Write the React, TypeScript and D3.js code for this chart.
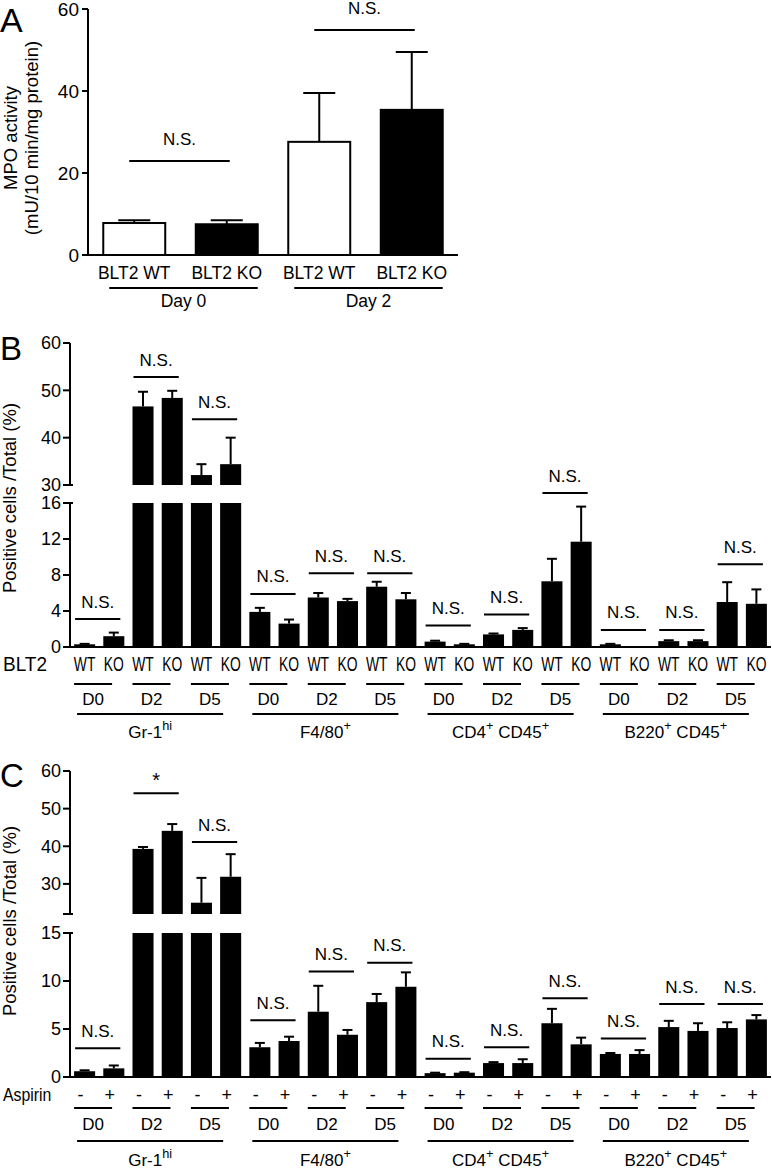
import React from "react";
import * as d3 from "d3";

// ---------- DATA ----------
// Panel A
const aCategories = ["BLT2 WT", "BLT2 KO", "BLT2 WT", "BLT2 KO"];
const aDays = ["Day 0", "Day 2"];
const aValues = [7.8, 7.5, 27.6, 35.4];
const aErrors = [0.7, 1.0, 11.9, 14.1];
const aSigLevels = [22.9, 54.9];
const aSigLabels = ["N.S.", "N.S."];
const aTicks = [0, 20, 40, 60];

// Panels B and C share the categories
const cellTypes = ["Gr-1^hi", "F4/80^+", "CD4^+ CD45^+", "B220^+ CD45^+"];
const dayLabels = ["D0", "D2", "D5"];

// Panel B (BLT2 WT / KO)
const bGenotypes = ["WT", "KO"];
const bValues = [
  0.3, 1.2, 46.6, 48.4, 32.1, 34.4,
  3.9, 2.6, 5.5, 5.1, 6.7, 5.3,
  0.6, 0.3, 1.4, 1.9, 7.3, 11.7,
  0.3, 0.0, 0.65, 0.65, 5.0, 4.8,
];
const bErrors = [
  0.05, 0.4, 3.1, 1.5, 2.3, 5.6,
  0.45, 0.45, 0.5, 0.25, 0.55, 0.7,
  0.1, 0.05, 0.1, 0.2, 2.5, 3.9,
  0.05, 0.0, 0.1, 0.1, 2.2, 1.6,
];
const bSigLevels = [3.1, 52.8, 43.9, 5.9, 8.2, 8.2, 2.4, 3.6, 17.1, 1.9, 1.9, 9.2];
const bSigLabels = ["N.S.", "N.S.", "N.S.", "N.S.", "N.S.", "N.S.", "N.S.", "N.S.", "N.S.", "N.S.", "N.S.", "N.S."];
const bLowerTicks = [0, 4, 8, 12, 16];
const bUpperTicks = [30, 40, 50, 60];

// Panel C (Aspirin - / +)
const cTreatments = ["-", "+"];
const cValues = [
  0.6, 0.9, 39.3, 44.1, 25.0, 31.9,
  3.1, 3.75, 6.8, 4.4, 7.8, 9.4,
  0.4, 0.45, 1.45, 1.45, 5.6, 3.4,
  2.4, 2.4, 5.2, 4.8, 5.1, 6.0,
];
const cErrors = [
  0.1, 0.3, 0.5, 1.8, 6.6, 6.0,
  0.45, 0.45, 2.7, 0.5, 0.85, 1.5,
  0.05, 0.05, 0.1, 0.4, 1.5, 0.7,
  0.1, 0.4, 0.65, 0.8, 0.6, 0.45,
];
const cSigLevels = [3.0, 54.1, 41.1, 5.9, 11.0, 11.9, 1.9, 3.1, 8.2, 4.0, 7.6, 7.6];
const cSigLabels = ["N.S.", "*", "N.S.", "N.S.", "N.S.", "N.S.", "N.S.", "N.S.", "N.S.", "N.S.", "N.S.", "N.S."];
const cLowerTicks = [0, 5, 10, 15];
const cUpperTicks = [30, 40, 50, 60];

// ---------- LAYOUT ----------
const W = 772;
const H = 1170;
const FONT = "'Liberation Sans', Arial, Helvetica, sans-serif";
const SW = 2;

function RichLabel({ x, y, text, size }: { x: number; y: number; text: string; size: number }) {
  const parts = text.split(/(\^[^\s]+)/).filter((p) => p.length > 0);
  const nodes: React.ReactNode[] = [];
  let raised = false;
  parts.forEach((p, i) => {
    if (p.startsWith("^")) {
      nodes.push(
        <tspan key={i} fontSize={size * 0.75} dy={-size * 0.45}>
          {p.slice(1)}
        </tspan>
      );
      raised = true;
    } else {
      nodes.push(
        <tspan key={i} dy={raised ? size * 0.45 : 0}>
          {p}
        </tspan>
      );
      raised = false;
    }
  });
  return (
    <text x={x} y={y} fontSize={size} textAnchor="middle" fontFamily={FONT}>
      {nodes}
    </text>
  );
}

function CText({ x, y, sx, size, children, anchor = "middle" }: any) {
  return (
    <text
      transform={`translate(${x},${y}) scale(${sx},1)`}
      fontSize={size}
      textAnchor={anchor}
      fontFamily={FONT}
    >
      {children}
    </text>
  );
}

function PanelA() {
  const x = d3.scaleBand<number>().domain(d3.range(aValues.length)).range([88, 458]).paddingInner(0.33).paddingOuter(0.165);
  const y = d3.scaleLinear().domain([0, 60]).range([255, 9]);
  const bw = x.bandwidth();
  const axisX = 88;
  return (
    <g>
      <text x={0} y={32} fontSize={34} fontFamily={FONT}>A</text>
      <text transform={`translate(17,138) rotate(-90)`} fontSize={18.5} textAnchor="middle" fontFamily={FONT}>MPO activity</text>
      <text transform={`translate(38,138) rotate(-90)`} fontSize={18.5} textAnchor="middle" fontFamily={FONT}>(mU/10 min/mg protein)</text>
      {/* y axis */}
      <line x1={axisX} x2={axisX} y1={y(60)} y2={y(0)} stroke="#000" strokeWidth={SW} />
      {aTicks.map((t) => (
        <g key={t}>
          <line x1={axisX - 6} x2={axisX} y1={y(t)} y2={y(t)} stroke="#000" strokeWidth={SW} />
          <text x={axisX - 9} y={y(t)} dy="0.36em" fontSize={19} textAnchor="end" fontFamily={FONT}>{t}</text>
        </g>
      ))}
      {/* bars */}
      {aValues.map((v, i) => {
        const x0 = x(i)!;
        const cx = x0 + bw / 2;
        const isWT = aCategories[i].includes("WT");
        return (
          <g key={i}>
            <line x1={cx} x2={cx} y1={y(v)} y2={y(v + aErrors[i])} stroke="#000" strokeWidth={SW} />
            <line x1={cx - 16} x2={cx + 16} y1={y(v + aErrors[i])} y2={y(v + aErrors[i])} stroke="#000" strokeWidth={SW} />
            <rect x={x0} y={y(v)} width={bw} height={y(0) - y(v)} fill={isWT ? "#fff" : "#000"} stroke="#000" strokeWidth={SW} />
            <text x={cx} y={279} fontSize={17.5} textAnchor="middle" fontFamily={FONT}>{aCategories[i]}</text>
          </g>
        );
      })}
      <line x1={axisX} x2={458} y1={y(0)} y2={y(0)} stroke="#000" strokeWidth={SW} />
      {aDays.map((d, k) => {
        const x1 = x(2 * k)! + 6;
        const x2 = x(2 * k + 1)! + bw;
        return (
          <g key={d}>
            <line x1={x1} x2={x2} y1={288} y2={288} stroke="#000" strokeWidth={SW} />
            <text x={(x1 + x2) / 2} y={307} fontSize={17.5} textAnchor="middle" fontFamily={FONT}>{d}</text>
          </g>
        );
      })}
      {aSigLevels.map((lv, k) => {
        const x1 = x(2 * k)! + bw / 2 - 5;
        const x2 = x(2 * k + 1)! + bw / 2 + 3;
        return (
          <g key={k}>
            <line x1={x1} x2={x2} y1={y(lv)} y2={y(lv)} stroke="#000" strokeWidth={SW} />
            <text x={(x1 + x2) / 2} y={y(lv) - 16} fontSize={17} textAnchor="middle" fontFamily={FONT}>{aSigLabels[k]}</text>
          </g>
        );
      })}
    </g>
  );
}

type BrokenProps = {
  letter: string;
  letterY: number;
  values: number[];
  errors: number[];
  sigLevels: number[];
  sigLabels: string[];
  lowerDomain: [number, number];
  lowerRange: [number, number];
  upperDomain: [number, number];
  upperRange: [number, number];
  lowerTicks: number[];
  upperTicks: number[];
  rowHeader: string;
  rowHeaderSize: number;
  rowHeaderSx: number;
  rowSymbols: string[];
  rowSize: number;
  rowSx: number;
  rowY: number;
  rowOffset: number;
  labelCy: number;
  pairLineY: number;
  dayY: number;
  groupLineY: number;
  groupY: number;
};

function BrokenPanel(p: BrokenProps) {
  const n = p.values.length;
  const x = d3.scaleBand<number>().domain(d3.range(n)).range([70, 771]).paddingInner(0.28).paddingOuter(0.14);
  const bw = x.bandwidth();
  const yL = d3.scaleLinear().domain(p.lowerDomain).range(p.lowerRange);
  const yU = d3.scaleLinear().domain(p.upperDomain).range(p.upperRange);
  const lowMax = p.lowerDomain[1];
  const upMin = p.upperDomain[0];
  const axisX = 70;
  const els: React.ReactNode[] = [];

  p.values.forEach((v, i) => {
    const x0 = x(i)!;
    const cx = x0 + bw / 2;
    const e = p.errors[i];
    const broken = v > lowMax;
    const ys = broken ? yU : yL;
    if (e > 0) {
      els.push(<line key={`el${i}`} x1={cx} x2={cx} y1={ys(v)} y2={ys(v + e)} stroke="#000" strokeWidth={SW} />);
      els.push(<line key={`ec${i}`} x1={cx - 5} x2={cx + 5} y1={ys(v + e)} y2={ys(v + e)} stroke="#000" strokeWidth={SW} />);
    }
    if (broken) {
      els.push(<rect key={`bl${i}`} x={x0} y={yL(lowMax)} width={bw} height={yL(0) - yL(lowMax)} fill="#000" />);
      els.push(<rect key={`bu${i}`} x={x0} y={yU(v)} width={bw} height={yU(upMin) - yU(v)} fill="#000" />);
    } else if (v > 0) {
      els.push(<rect key={`b${i}`} x={x0} y={yL(v)} width={bw} height={yL(0) - yL(v)} fill="#000" />);
    }
    els.push(
      <CText key={`r${i}`} x={cx + p.rowOffset} y={p.rowY} sx={p.rowSx} size={p.rowSize}>
        {p.rowSymbols[i % 2]}
      </CText>
    );
  });

  p.sigLevels.forEach((lv, k) => {
    const broken = Math.max(p.values[2 * k], p.values[2 * k + 1]) > lowMax;
    const yy = broken ? yU(lv) : yL(lv);
    const x1 = x(2 * k)! + 1;
    const x2 = x(2 * k + 1)! + bw - 4;
    const isStar = p.sigLabels[k] === "*";
    els.push(<line key={`sl${k}`} x1={x1} x2={x2} y1={yy} y2={yy} stroke="#000" strokeWidth={SW} />);
    els.push(
      <text key={`st${k}`} x={(x1 + x2) / 2} y={isStar ? yy - 6 : yy - 11.5} fontSize={isStar ? 20 : 17} textAnchor="middle" fontFamily={FONT}>
        {p.sigLabels[k]}
      </text>
    );
  });

  // pair underlines and day labels
  for (let k = 0; k < n / 2; k++) {
    const x1 = x(2 * k)!;
    const x2 = x1 + 38;
    els.push(<line key={`pl${k}`} x1={x1} x2={x2} y1={p.pairLineY} y2={p.pairLineY} stroke="#000" strokeWidth={SW} />);
    els.push(
      <text key={`dl${k}`} x={(x1 + x2) / 2} y={p.dayY} fontSize={17} textAnchor="middle" fontFamily={FONT}>
        {dayLabels[k % 3]}
      </text>
    );
  }
  // group lines and labels
  cellTypes.forEach((c, g) => {
    const x1 = x(6 * g)! + 3;
    const x2 = x(6 * g + 5)! + bw - 18;
    els.push(<line key={`gl${g}`} x1={x1} x2={x2} y1={p.groupLineY} y2={p.groupLineY} stroke="#000" strokeWidth={SW} />);
    els.push(<RichLabel key={`gt${g}`} x={(x1 + x2) / 2} y={p.groupY} text={c} size={17} />);
  });

  const [l0, l1] = p.lowerRange;
  const [u0, u1] = p.upperRange;
  return (
    <g>
      <text x={0} y={p.letterY} fontSize={33} fontFamily={FONT}>{p.letter}</text>
      <text transform={`translate(16,${p.labelCy}) rotate(-90)`} fontSize={18.5} textAnchor="middle" fontFamily={FONT}>
        Positive cells /Total (%)
      </text>
      {/* broken y axis */}
      <line x1={axisX} x2={axisX} y1={l0} y2={l1} stroke="#000" strokeWidth={SW} />
      <line x1={axisX} x2={axisX} y1={u0} y2={u1} stroke="#000" strokeWidth={SW} />
      <line x1={axisX - 7} x2={axisX + 3} y1={l1} y2={l1} stroke="#000" strokeWidth={SW} />
      <line x1={axisX - 7} x2={axisX + 3} y1={u0} y2={u0} stroke="#000" strokeWidth={SW} />
      {p.lowerTicks.map((t) => (
        <g key={`lt${t}`}>
          <line x1={axisX - 7} x2={axisX} y1={yL(t)} y2={yL(t)} stroke="#000" strokeWidth={SW} />
          <text x={axisX - 9} y={yL(t)} dy="0.36em" fontSize={18} textAnchor="end" fontFamily={FONT}>{t}</text>
        </g>
      ))}
      {p.upperTicks.map((t) => (
        <g key={`ut${t}`}>
          <line x1={axisX - 7} x2={axisX} y1={yU(t)} y2={yU(t)} stroke="#000" strokeWidth={SW} />
          <text x={axisX - 9} y={yU(t)} dy="0.36em" fontSize={18} textAnchor="end" fontFamily={FONT}>{t}</text>
        </g>
      ))}
      {els}
      <line x1={axisX} x2={771} y1={l0} y2={l0} stroke="#000" strokeWidth={SW} />
      <CText x={3} y={p.rowY} sx={p.rowHeaderSx} size={p.rowHeaderSize} anchor="start">{p.rowHeader}</CText>
    </g>
  );
}

export default function App() {
  return (
    <svg
      width={W}
      height={H}
      viewBox={`0 0 ${W} ${H}`}
      style={{ position: "absolute", left: 0, top: 0, background: "#fff" }}
    >
      <rect x={0} y={0} width={W} height={H} fill="#fff" />
      <PanelA />
      <BrokenPanel
        letter="B"
        letterY={360}
        values={bValues}
        errors={bErrors}
        sigLevels={bSigLevels}
        sigLabels={bSigLabels}
        lowerDomain={[0, 16]}
        lowerRange={[647, 503]}
        upperDomain={[30, 60]}
        upperRange={[485, 343]}
        lowerTicks={bLowerTicks}
        upperTicks={bUpperTicks}
        rowHeader="BLT2"
        rowHeaderSize={20}
        rowHeaderSx={0.95}
        rowSymbols={bGenotypes}
        rowSize={21}
        rowSx={0.66}
        rowY={671}
        rowOffset={0}
        labelCy={498}
        pairLineY={684}
        dayY={705}
        groupLineY={714}
        groupY={738}
      />
      <BrokenPanel
        letter="C"
        letterY={787}
        values={cValues}
        errors={cErrors}
        sigLevels={cSigLevels}
        sigLabels={cSigLabels}
        lowerDomain={[0, 15]}
        lowerRange={[1077, 933]}
        upperDomain={[22, 60]}
        upperRange={[914, 771]}
        lowerTicks={cLowerTicks}
        upperTicks={cUpperTicks}
        rowHeader="Aspirin"
        rowHeaderSize={18}
        rowHeaderSx={0.88}
        rowSymbols={cTreatments}
        rowSize={18}
        rowSx={1}
        rowY={1101}
        rowOffset={-4}
        labelCy={921}
        pairLineY={1108}
        dayY={1130}
        groupLineY={1141}
        groupY={1166}
      />
    </svg>
  );
}
